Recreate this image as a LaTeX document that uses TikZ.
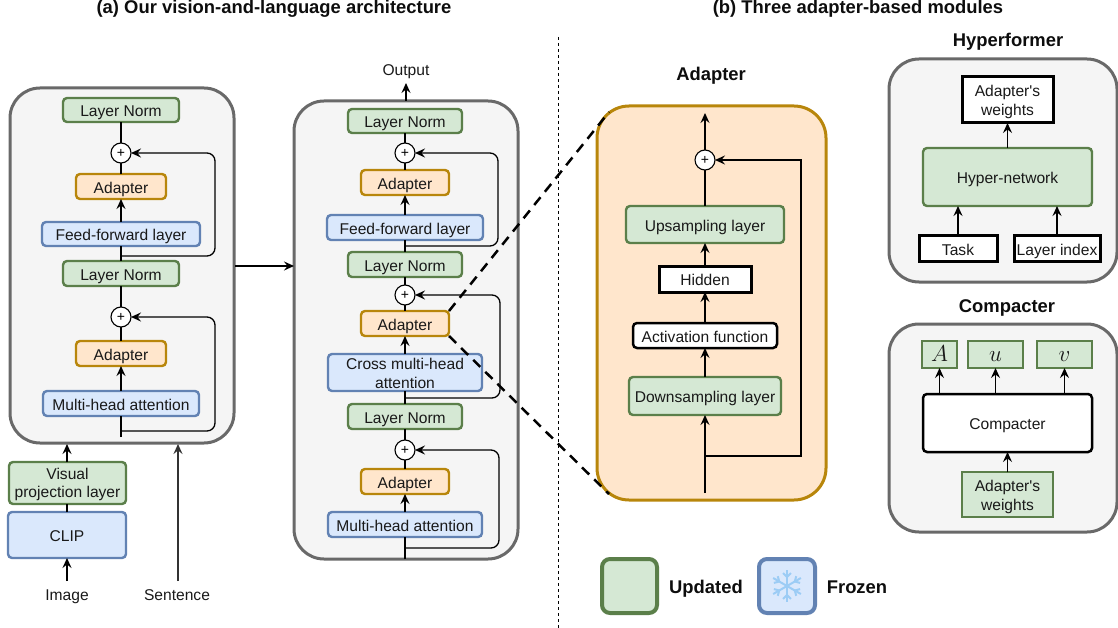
\documentclass[tikz,border=0pt]{standalone}
\usepackage{fontspec}
\usepackage{graphicx}
\setmainfont{Liberation Sans}
\newfontfamily\straightfont{Liberation Sans}
\usetikzlibrary{arrows.meta}
\definecolor{gfill}{HTML}{D5E8D4}\definecolor{gline}{HTML}{5B7F4A}
\definecolor{bfill}{HTML}{DAE8FC}\definecolor{bline}{HTML}{6282B3}
\definecolor{ofill}{HTML}{FFE6CC}\definecolor{oline}{HTML}{B8860B}
\definecolor{pfill}{HTML}{F5F5F5}\definecolor{pline}{HTML}{696969}
\definecolor{flake}{HTML}{9CCCF5}
\newcommand{\bx}[7]{%
  \pgfmathsetmacro\bxcx{(#3+#5)/2}\pgfmathsetmacro\bxcy{(#4+#6)/2}%
  \pgfmathsetmacro\bxw{#5-#3-2}\pgfmathsetmacro\bxh{#6-#4-2}%
  \node[#1,minimum width=\bxw pt,minimum height=\bxh pt] (#2) at (\bxcx,\bxcy) {#7};}
\newcommand{\mathlabel}[1]{\scalebox{1.6}{$#1$}}
\tikzset{
  base/.style={inner sep=0pt,outer sep=0pt,align=center,font=\fontsize{15.6}{18.5}\selectfont,text=black!90,text height=13.4pt,text depth=0pt},
  twolines/.style={text height=31pt},
  green/.style={base,draw=gline,fill=gfill,line width=2.4pt,rounded corners=4pt},
  blue/.style={base,draw=bline,fill=bfill,line width=2.4pt,rounded corners=4pt},
  orange/.style={base,draw=oline,fill=ofill,line width=2.4pt,rounded corners=4pt},
  whitebox/.style={base,draw=black,fill=white,line width=2.5pt,rounded corners=4pt},
  sharpbox/.style={base,draw=black,fill=white,line width=3pt},
  greensharp/.style={base,draw=gline,fill=gfill,line width=2.8pt},
  panel/.style={base,draw=pline,fill=pfill,line width=3pt,rounded corners=30pt},
  adpanel/.style={base,draw=oline,fill=ofill,line width=3pt,rounded corners=32pt},
  legendg/.style={base,draw=gline,fill=gfill,line width=4pt,rounded corners=8pt},
  legendb/.style={base,draw=bline,fill=bfill,line width=4pt,rounded corners=8pt},
  plusnode/.style={circle,draw=black,fill=white,line width=1.1pt,minimum size=20pt,inner sep=0pt,outer sep=0pt,font=\fontsize{14}{14}\selectfont},
  conn/.style={draw=black,line width=1.3pt,-{Stealth[length=10pt,width=9pt,inset=3.5pt]}},
  plain/.style={draw=black,line width=1.3pt},
  fb/.style={conn,rounded corners=8pt},
  zoomline/.style={draw=black,line width=2.5pt,dash pattern=on 10pt off 7pt},
  label/.style={inner sep=0pt,anchor=base,font=\fontsize{15.6}{18}\selectfont,text=black!90},
  title/.style={inner sep=0pt,anchor=base,font=\fontsize{18.4}{20}\selectfont\bfseries,text=black!95},
  flakeline/.style={draw=flake,line width=2pt},
}
\begin{document}
\begin{tikzpicture}[x=1pt,y=-1pt]
\useasboundingbox (0,0) rectangle (1118,628);
% titles and divider
\node[title] (ta) at (274,14) {(a) Our vision-and-language architecture};
\node[title] (tb) at (858,14) {(b) Three adapter-based modules};
\coordinate (d1) at (558,37); \coordinate (d2) at (558,628);
\draw[line width=1pt,dash pattern=on 3pt off 3pt] (d1) -- (d2);

% left panel
\bx{panel}{pl}{9}{87}{235}{444}{}
\bx{green}{l1}{62}{97}{180}{123}{Layer Norm}
\node[plusnode] (lp1) at (121,153) {+};
\bx{orange}{l2}{75}{173}{167}{200}{Adapter}
\bx{blue}{l3}{41}{221}{201}{247}{Feed-forward layer}
\bx{green}{l4}{62}{260}{180}{287}{Layer Norm}
\node[plusnode] (lp2) at (121,317) {+};
\bx{orange}{l5}{75}{340}{167}{367}{Adapter}
\bx{blue}{l6}{42}{390}{200}{417}{Multi-head attention}
\bx{green,text height=29.6pt}{vis}{8}{461}{127}{505}{Visual\\projection layer}
\bx{blue}{clip}{7}{511}{127}{559}{CLIP}
\node[label] (img) at (67,600) {Image};
\node[label] (sen) at (177,600) {Sentence};
\coordinate (ls) at (67,581); \coordinate (ss) at (178,581);
\coordinate (lf1a) at (121,256); \coordinate (lf1b) at (215,256);
\coordinate (lf2a) at (121,431); \coordinate (lf2b) at (215,431);
\coordinate (lbot) at (121,437);
\coordinate (plvis) at (67,444); \coordinate (plsen) at (178,444);
\draw[plain] (l2.north) -- (lp1.south);
\draw[plain] (lp1.north) -- (l1.south);
\draw[conn] (l3.north) -- (l2.south);
\draw[plain] (l4.north) -- (l3.south);
\draw[plain] (l5.north) -- (lp2.south);
\draw[plain] (lp2.north) -- (l4.south);
\draw[conn] (l6.north) -- (l5.south);
\draw[plain] (lbot) -- (l6.south);
\draw[fb] (lf1a) -- (lf1b) |- (lp1.east);
\draw[fb] (lf2a) -- (lf2b) |- (lp2.east);
\draw[conn] (vis.north -| plvis) -- (plvis);
\draw[plain] (clip.north -| plvis) -- (vis.south -| plvis);
\draw[conn] (ls) -- (clip.south -| ls);
\draw[conn,draw=black!80] (ss) -- (plsen);

% middle panel
\bx{panel}{pm}{293}{100}{519}{560}{}
\bx{green}{m1}{347}{108}{463}{134}{Layer Norm}
\node[plusnode] (mp1) at (405,153) {+};
\bx{orange}{m2}{360}{169}{450}{196}{Adapter}
\bx{blue}{m3}{326}{214}{484}{241}{Feed-forward layer}
\bx{green}{m4}{347}{251}{463}{278}{Layer Norm}
\node[plusnode] (mp2) at (405,295) {+};
\bx{orange}{m5}{360}{310}{450}{337}{Adapter}
\bx{blue,twolines}{m6}{327}{353}{483}{392}{Cross multi-head\\attention}
\bx{green}{m7}{347}{403}{463}{430}{Layer Norm}
\node[plusnode] (mp3) at (405,450) {+};
\bx{orange}{m8}{360}{468}{450}{495}{Adapter}
\bx{blue}{m9}{327}{511}{483}{538}{Multi-head attention}
\node[label] (out) at (406,76) {Output};
\coordinate (mf1a) at (405,246); \coordinate (mf1b) at (498,246);
\coordinate (mf2a) at (405,398); \coordinate (mf2b) at (500,398);
\coordinate (mf3a) at (405,548); \coordinate (mf3b) at (499,548);
\coordinate (mbot) at (405,559);
\coordinate (mtop) at (406,101); \coordinate (mtip) at (406,83);
\draw[plain] (m2.north) -- (mp1.south);
\draw[plain] (mp1.north) -- (m1.south);
\draw[conn] (m3.north) -- (m2.south);
\draw[plain] (m4.north) -- (m3.south);
\draw[plain] (m5.north) -- (mp2.south);
\draw[plain] (mp2.north) -- (m4.south);
\draw[conn] (m6.north) -- (m5.south);
\draw[plain] (m7.north) -- (m6.south);
\draw[plain] (m8.north) -- (mp3.south);
\draw[plain] (mp3.north) -- (m7.south);
\draw[conn] (m9.north) -- (m8.south);
\draw[plain] (mbot) -- (m9.south);
\draw[fb] (mf1a) -- (mf1b) |- (mp1.east);
\draw[fb] (mf2a) -- (mf2b) |- (mp2.east);
\draw[fb] (mf3a) -- (mf3b) |- (mp3.east);
\draw[conn] (mtop) -- (mtip);
\coordinate (lm) at (235,266);
\draw[conn] (lm) -- (lm -| pm.west);

% adapter panel
\bx{adpanel}{ap}{596}{105}{827}{501}{}
\node[title] (tad) at (711,81) {Adapter};
\node[plusnode] (ap1) at (705,160) {+};
\bx{green}{a1}{625}{205}{785}{244}{Upsampling layer}
\bx{sharpbox}{a2}{658}{265}{752}{293}{Hidden}
\bx{whitebox}{a3}{632}{322}{778}{349}{Activation function}
\bx{green}{a4}{628}{376}{782}{416}{Downsampling layer}
\coordinate (atop) at (705,113); \coordinate (abot) at (705,493);
\coordinate (af1) at (705,456); \coordinate (af2) at (801,456);
\draw[conn] (ap1.north) -- (atop);
\draw[plain] (a1.north) -- (ap1.south);
\draw[conn] (a2.north) -- (a1.south);
\draw[conn] (a3.north) -- (a2.south);
\draw[conn] (a4.north) -- (a3.south);
\draw[conn] (abot) -- (a4.south);
\draw[conn] (af1) -- (af2) |- (ap1.east);

% zoom lines
\coordinate (z1) at (609,112); \coordinate (z2) at (609,494);
\draw[zoomline] (m5.north east) -- (z1);
\draw[zoomline] (m5.south east) -- (z2);

% hyperformer
\node[title] (th) at (1008,47) {Hyperformer};
\bx{panel}{ph}{888}{58}{1118}{283}{}
\bx{sharpbox,twolines}{h1}{961}{76}{1054}{124}{{\straightfont Adapter's}\\weights}
\bx{green}{h2}{922}{147}{1093}{207}{Hyper-network}
\bx{sharpbox}{h3}{918}{235}{998}{262}{Task}
\bx{sharpbox}{h4}{1013}{235}{1101}{262}{Layer index}
\draw[conn] (h2.north -| h1.south) -- (h1.south);
\draw[conn] (h3.north) -- (h3.north |- h2.south);
\draw[conn] (h4.north) -- (h4.north |- h2.south);

% compacter
\node[title] (tc) at (1007,312) {Compacter};
\bx{panel}{pc}{888}{323}{1118}{533}{}
\bx{greensharp}{c1}{921}{340}{958}{369}{\mathlabel{A}}
\bx{greensharp}{c2}{967}{340}{1024}{369}{\mathlabel{u}}
\bx{greensharp}{c3}{1036}{340}{1093}{369}{\mathlabel{v}}
\bx{whitebox}{c4}{922}{393}{1093}{453}{Compacter}
\bx{greensharp,twolines}{c5}{961}{471}{1054}{518}{{\straightfont Adapter's}\\weights}
\draw[conn] (c1.south |- c4.north) -- (c1.south);
\draw[conn] (c2.south |- c4.north) -- (c2.south);
\draw[conn] (c3.south |- c4.north) -- (c3.south);
\draw[conn] (c5.north) -- (c5.north |- c4.south);

% legend
\bx{legendg}{lg}{601}{558}{658}{614}{}
\node[title] (lu) at (706,593) {Updated};
\bx{legendb}{lb}{758}{558}{816}{614}{}
\node[title] (lfz) at (857,593) {Frozen};
\foreach \a in {30,90,150,210,270,330}{
  \begin{scope}[shift={(lb.center)},rotate=\a]
    \draw[flakeline] (0,0) -- (16,0);
    \draw[flakeline] (9,0) -- ++(45:5.5);
    \draw[flakeline] (9,0) -- ++(-45:5.5);
  \end{scope}
}
\end{tikzpicture}
\end{document}
